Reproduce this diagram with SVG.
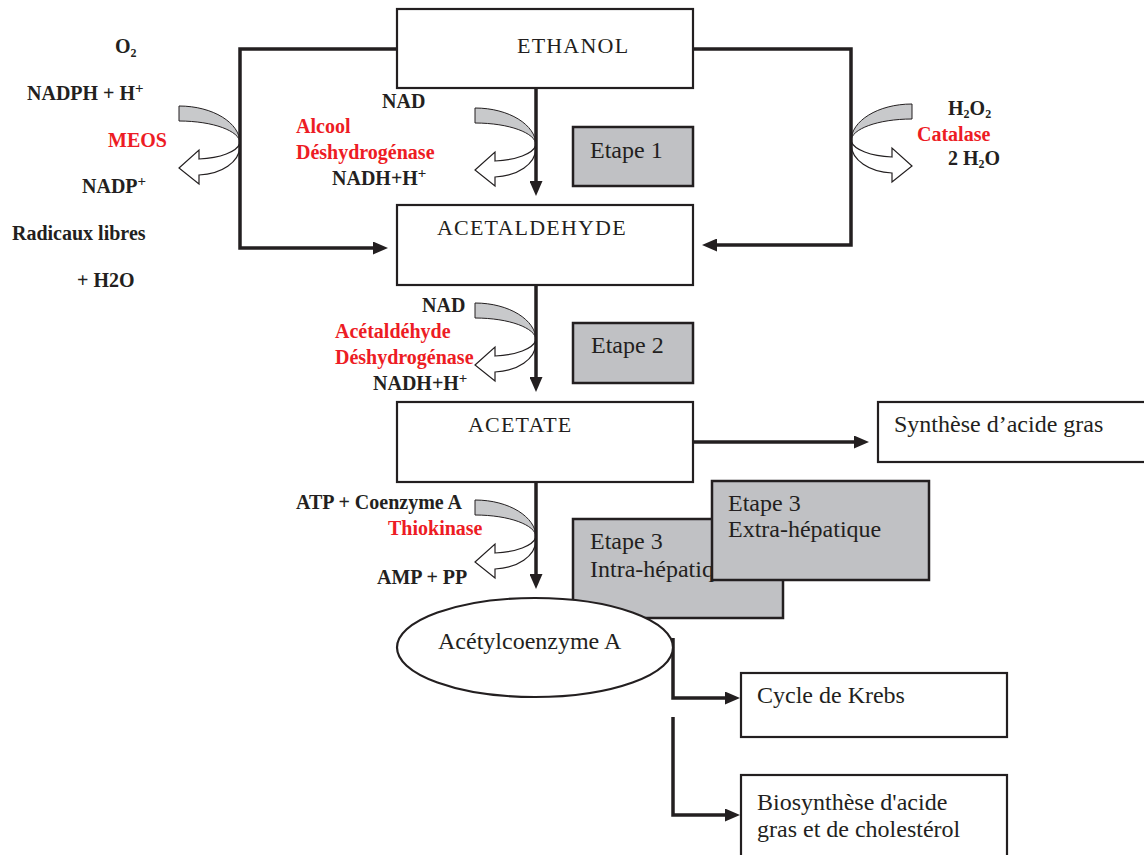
<svg xmlns="http://www.w3.org/2000/svg" xmlns:xlink="http://www.w3.org/1999/xlink" width="1144" height="855" viewBox="0 0 1144 855">
<style>
.box{fill:#fff;stroke:#231f20;stroke-width:2.2}
.step{fill:#c0c1c4;stroke:#231f20;stroke-width:2.5}
.ln{fill:none;stroke:#231f20;stroke-width:3.5}
.lb{font-family:"Liberation Serif","Times New Roman",serif;font-weight:bold;font-size:20px;fill:#231f20}
.red{fill:#ed1c24}
.bx{font-family:"Liberation Serif","Times New Roman",serif;font-size:24px;fill:#231f20}
.cap{font-size:22px;letter-spacing:1.2px}
.sup{font-size:15px}
.sub{font-size:12px}
</style>
<defs>
<marker id="ah" viewBox="0 0 15 13" refX="9" refY="6.5" markerWidth="15" markerHeight="13" markerUnits="userSpaceOnUse" orient="auto">
<path d="M0,0 L15,6.5 L0,13 Z" fill="#231f20"/>
</marker>
<g id="curv">
<path d="M-61,-37 C-27,-37 0,-20 0,0 C0,-12 -27,-22 -61,-22 Z" fill="#c8c9cb" stroke="#231f20" stroke-width="1"/>
<path d="M0,0 C-3,9 -20,15 -41,16 L-41,7 L-61,25 L-41,41 L-41,32 C-18,31 -1,19 0,4 Z" fill="#fff" stroke="#231f20" stroke-width="1.2"/>
</g>
</defs>
<rect width="1144" height="855" fill="#fff"/>

<g id="enzyme-arrows">
<use xlink:href="#curv" transform="translate(240,143)"/>
<use xlink:href="#curv" transform="translate(536,145)"/>
<use xlink:href="#curv" transform="translate(536,340)"/>
<use xlink:href="#curv" transform="translate(536,537)"/>
<use xlink:href="#curv" transform="translate(851,141) scale(-1,1)"/>
</g>

<g id="connectors">
<path class="ln" d="M397,49 H240 V248 H382" marker-end="url(#ah)"/>
<path class="ln" d="M693,49 H851 V245 H708" marker-end="url(#ah)"/>
<path class="ln" d="M536,88 V190" marker-end="url(#ah)"/>
<path class="ln" d="M536,285 V386" marker-end="url(#ah)"/>
<path class="ln" d="M536,482 V583" marker-end="url(#ah)"/>
<path class="ln" d="M693,442 H863" marker-end="url(#ah)"/>
<path class="ln" d="M673,638 V698 H734" marker-end="url(#ah)"/>
<path class="ln" d="M673,717 V815 H734" marker-end="url(#ah)"/>
</g>

<g id="ethanol">
<rect class="box" x="397" y="9" width="296" height="79"/>
<text class="bx cap" x="517" y="53">ETHANOL</text>
</g>
<g id="acetaldehyde">
<rect class="box" x="397" y="205" width="296" height="80"/>
<text class="bx cap" x="437" y="235">ACETALDEHYDE</text>
</g>
<g id="acetate">
<rect class="box" x="397" y="402" width="296" height="80"/>
<text class="bx cap" x="468" y="432">ACETATE</text>
</g>
<g id="etape1">
<rect class="step" x="573" y="127" width="120" height="59"/>
<text class="bx" x="590" y="158">Etape 1</text>
</g>
<g id="etape2">
<rect class="step" x="573" y="323" width="120" height="60"/>
<text class="bx" x="591" y="353">Etape 2</text>
</g>
<g id="etape3-intra">
<rect class="step" x="573" y="519" width="210" height="99"/>
<text class="bx" x="590" y="549">Etape 3</text>
<text class="bx" x="590" y="577">Intra-hépatique</text>
</g>
<g id="etape3-extra">
<rect class="step" x="712" y="481" width="217" height="99"/>
<text class="bx" x="728" y="511">Etape 3</text>
<text class="bx" x="728" y="537">Extra-hépatique</text>
</g>
<g id="synthese">
<rect class="box" x="878" y="402" width="280" height="60"/>
<text class="bx" x="894" y="432">Synthèse d’acide gras</text>
</g>
<g id="acetylcoa">
<ellipse class="box" cx="535" cy="647.5" rx="138" ry="49.5"/>
<text class="bx" x="438" y="649">Acétylcoenzyme A</text>
</g>
<g id="krebs">
<rect class="box" x="741" y="673" width="266" height="64"/>
<text class="bx" x="757" y="703">Cycle de Krebs</text>
</g>
<g id="biosynthese">
<rect class="box" x="741" y="775" width="266" height="90"/>
<text class="bx" x="757" y="810">Biosynthèse d'acide</text>
<text class="bx" x="757" y="837">gras et de cholestérol</text>
</g>

<g id="labels">
<text class="lb" x="115" y="53">O<tspan class="sub" dy="4">2</tspan></text>
<text class="lb" x="27" y="100">NADPH + H<tspan class="sup" dy="-7">+</tspan></text>
<text class="lb red" x="108" y="147">MEOS</text>
<text class="lb" x="82" y="193">NADP<tspan class="sup" dy="-7">+</tspan></text>
<text class="lb" x="12" y="240">Radicaux libres</text>
<text class="lb" x="77" y="287">+ H2O</text>

<text class="lb" x="382" y="108">NAD</text>
<text class="lb red" x="296" y="133">Alcool</text>
<text class="lb red" x="296" y="159">Déshydrogénase</text>
<text class="lb" x="332" y="185">NADH+H<tspan class="sup" dy="-7">+</tspan></text>

<text class="lb" x="948" y="115">H<tspan class="sub" dy="3">2</tspan><tspan dy="-3">O</tspan><tspan class="sub" dy="3">2</tspan></text>
<text class="lb red" x="917" y="141">Catalase</text>
<text class="lb" x="948" y="165">2 H<tspan class="sub" dy="3">2</tspan><tspan dy="-3">O</tspan></text>

<text class="lb" x="422" y="312">NAD</text>
<text class="lb red" x="335" y="338">Acétaldéhyde</text>
<text class="lb red" x="335" y="364">Déshydrogénase</text>
<text class="lb" x="373" y="390">NADH+H<tspan class="sup" dy="-7">+</tspan></text>

<text class="lb" x="296" y="509">ATP + Coenzyme A</text>
<text class="lb red" x="388" y="535">Thiokinase</text>
<text class="lb" x="377" y="584">AMP + PP</text>
</g>
</svg>
